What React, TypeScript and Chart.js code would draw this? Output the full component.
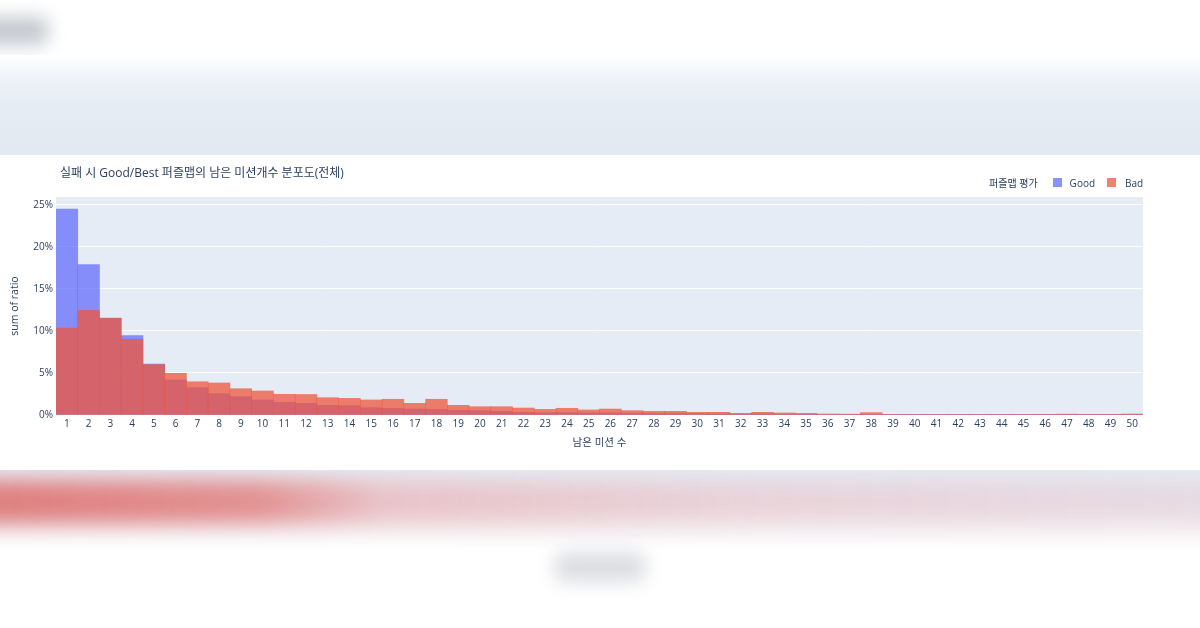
import React, { useEffect, useRef } from "react";
import { Chart, registerables } from "chart.js";

Chart.register(...registerables);

const categories: string[] = Array.from({ length: 50 }, (_, i) => String(i + 1));

const goodValues: number[] = [
  24.5, 17.9, 11.5, 9.45, 6.07, 4.17, 3.25, 2.54, 2.18, 1.79,
  1.51, 1.39, 1.15, 1.11, 0.87, 0.79, 0.71, 0.67, 0.56, 0.52,
  0.44, 0.32, 0.28, 0.3, 0.26, 0.26, 0.22, 0.2, 0.18, 0.16,
  0.14, 0.1, 0.14, 0.1, 0.08, 0.06, 0.05, 0.08, 0.04, 0.04,
  0.04, 0.04, 0.04, 0.04, 0.04, 0.05, 0.04, 0.03, 0.03, 0.05,
];

const badValues: number[] = [
  10.36, 12.46, 11.55, 9.0, 6.0, 4.96, 3.96, 3.81, 3.13, 2.86,
  2.46, 2.44, 2.06, 1.98, 1.79, 1.87, 1.39, 1.87, 1.15, 0.99,
  0.99, 0.83, 0.67, 0.8, 0.6, 0.71, 0.52, 0.44, 0.44, 0.32,
  0.32, 0.2, 0.32, 0.24, 0.2, 0.12, 0.1, 0.28, 0.06, 0.06,
  0.06, 0.06, 0.06, 0.06, 0.06, 0.02, 0.1, 0.04, 0.04, 0.12,
];

const yTicks: number[] = [0, 5, 10, 15, 20, 25];

const TITLE = "실패 시 Good/Best 퍼즐맵의 남은 미션개수 분포도(전체)";
const LEGEND_TITLE = "퍼즐맵 평가";
const SERIES_NAMES = ["Good", "Bad"];
const X_TITLE = "남은 미션 수";
const Y_TITLE = "sum of ratio";

const FONT = "'Open Sans', 'Noto Sans CJK KR', sans-serif";
const TEXT = "#2a3f5f";
const GOOD = "rgba(99,110,250,0.75)";
const BAD = "rgba(239,85,59,0.75)";
const PLOT_BG = "#e5ecf6";

const plotBg = {
  id: "plotBg",
  beforeDraw(chart: any) {
    const { ctx, chartArea } = chart;
    if (!chartArea) return;
    ctx.save();
    ctx.fillStyle = PLOT_BG;
    ctx.fillRect(chartArea.left, chartArea.top, chartArea.right - chartArea.left, chartArea.bottom - chartArea.top);
    ctx.restore();
  },
};

function ChartBox() {
  const ref = useRef<HTMLCanvasElement | null>(null);
  useEffect(() => {
    if (!ref.current) return;
    const chart = new Chart(ref.current, {
      type: "bar",
      data: {
        labels: categories,
        datasets: [
          {
            label: SERIES_NAMES[0],
            data: goodValues,
            backgroundColor: GOOD,
            borderWidth: 0,
            barPercentage: 1,
            categoryPercentage: 1,
            grouped: false,
            order: 2,
          },
          {
            label: SERIES_NAMES[1],
            data: badValues,
            backgroundColor: BAD,
            borderWidth: 0,
            barPercentage: 1,
            categoryPercentage: 1,
            grouped: false,
            order: 1,
          },
        ],
      },
      options: {
        responsive: false,
        animation: false,
        maintainAspectRatio: false,
        layout: { padding: { top: 42, right: 57, left: 0, bottom: 0 } },
        plugins: {
          legend: { display: false },
          title: { display: false },
          tooltip: { enabled: false },
        },
        scales: {
          x: {
            stacked: false,
            grid: { display: false, drawTicks: false },
            border: { display: false },
            ticks: {
              color: TEXT,
              font: { family: FONT, size: 10 },
              padding: 3,
              maxRotation: 0,
              autoSkip: false,
            },
            title: {
              display: true,
              text: X_TITLE,
              color: TEXT,
              font: { family: FONT, size: 10.5 },
              padding: { top: 0, bottom: 21 },
            },
            afterFit(scale: any) {
              scale.height = 55;
            },
          },
          y: {
            stacked: false,
            min: 0,
            max: 25.95,
            grid: { color: "#ffffff", lineWidth: 1, drawTicks: false },
            border: { display: false },
            afterBuildTicks(scale: any) {
              scale.ticks = yTicks.map((v) => ({ value: v }));
            },
            ticks: {
              color: TEXT,
              font: { family: FONT, size: 10 },
              padding: 3,
              callback: (v: any) => v + "%",
            },
            title: {
              display: true,
              text: Y_TITLE,
              color: TEXT,
              font: { family: FONT, size: 10.5 },
              padding: { top: 9, bottom: 0 },
            },
            afterFit(scale: any) {
              scale.width = 56;
            },
          },
        },
      },
      plugins: [plotBg],
    });
    return () => chart.destroy();
  }, []);
  return <canvas ref={ref} width={1200} height={315} style={{ display: "block" }} />;
}

export default function App() {
  return (
    <div style={{ position: "absolute", left: 0, top: 0, width: 1200, height: 628, overflow: "hidden", background: "#ffffff", fontFamily: FONT }}>
      {/* blurred header decoration */}
      <div style={{ position: "absolute", left: -30, top: 17, width: 78, height: 28, background: "#c4c8cf", filter: "blur(9px)", borderRadius: 8 }} />
      <div style={{ position: "absolute", left: 0, top: 55, width: 1200, height: 100, background: "linear-gradient(to bottom, #ffffff 0%, #eef2f8 25%, #e6ecf4 50%, #e3e9f1 100%)" }} />
      {/* blurred footer decoration */}
      <div style={{ position: "absolute", left: 0, top: 470, width: 1200, height: 80, background: "linear-gradient(to bottom, #e5ebf3 0%, #e9e9ef 40%, #f6f3f5 75%, #ffffff 100%)" }} />
      <div style={{ position: "absolute", left: -20, top: 480, width: 1260, height: 44, filter: "blur(10px)", background: "linear-gradient(to right, rgba(222,120,120,0.95) 0%, rgba(225,130,130,0.85) 22%, rgba(232,165,170,0.55) 32%, rgba(232,185,192,0.45) 60%, rgba(228,200,208,0.4) 100%)" }} />
      <div style={{ position: "absolute", left: 555, top: 552, width: 90, height: 30, background: "#dcdde2", filter: "blur(9px)", borderRadius: 8 }} />
      {/* chart panel */}
      <div style={{ position: "absolute", left: 0, top: 155, width: 1200, height: 315, background: "#ffffff" }}>
        <ChartBox />
        <div style={{ position: "absolute", left: 60, top: 8, fontSize: 12, color: TEXT, whiteSpace: "nowrap" }}>{TITLE}</div>
        <div style={{ position: "absolute", left: 989, top: 20, fontSize: 10, color: TEXT, whiteSpace: "nowrap", display: "flex", alignItems: "center" }}>
          <span>{LEGEND_TITLE}</span>
          <span style={{ display: "inline-block", width: 9, height: 9, background: GOOD, marginLeft: 15 }} />
          <span style={{ marginLeft: 8 }}>{SERIES_NAMES[0]}</span>
          <span style={{ display: "inline-block", width: 9, height: 9, background: BAD, marginLeft: 12 }} />
          <span style={{ marginLeft: 9 }}>{SERIES_NAMES[1]}</span>
        </div>
      </div>
    </div>
  );
}
